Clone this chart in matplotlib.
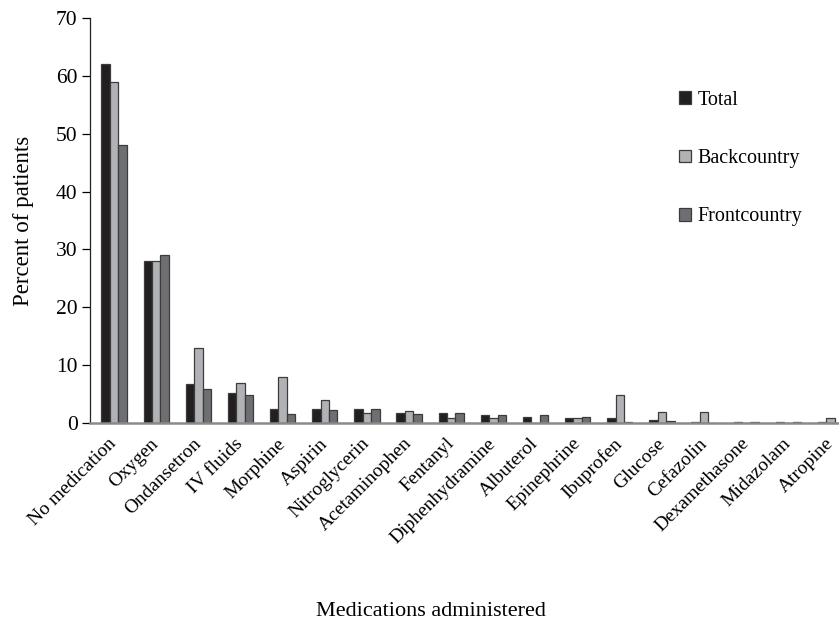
import matplotlib
matplotlib.use("Agg")
import matplotlib.pyplot as plt
import matplotlib.transforms as mtransforms
import numpy as np

plt.rcParams['font.family'] = ['Liberation Serif', 'DejaVu Serif']

medications = ["No medication", "Oxygen", "Ondansetron", "IV fluids", "Morphine",
               "Aspirin", "Nitroglycerin", "Acetaminophen", "Fentanyl",
               "Diphenhydramine", "Albuterol", "Epinephrine", "Ibuprofen",
               "Glucose", "Cefazolin", "Dexamethasone", "Midazolam", "Atropine"]
total = [62, 28, 6.7, 5.2, 2.5, 2.5, 2.5, 1.7, 1.7, 1.3, 1.1, 0.9, 0.9, 0.6, 0.25, 0.1, 0.1, 0.1]
backcountry = [59, 28, 12.9, 6.9, 7.9, 4.0, 1.8, 2.0, 0.9, 0.9, 0, 0.9, 4.9, 1.9, 1.9, 0, 0, 0.9]
frontcountry = [48, 29, 5.9, 4.9, 1.5, 2.2, 2.5, 1.6, 1.75, 1.4, 1.4, 1.0, 0.15, 0.4, 0, 0.15, 0.15, 0]

series = [("Total", total, "#231f20"),
          ("Backcountry", backcountry, "#b1b2b5"),
          ("Frontcountry", frontcountry, "#6e6f72")]

fig = plt.figure(figsize=(8.39, 6.29), dpi=100)
ax = fig.add_axes([90/839, (629-423)/629, 749/839, (423-18)/629])

x = np.arange(len(medications))
width = 0.2
for k, (name, vals, color) in enumerate(series):
    ax.bar(x + (k - 1) * width, vals, width, color=color, edgecolor="#3c3c3c",
           linewidth=0.9, label=name, zorder=2)

ax.set_xlim(-0.57, 17.2)
ax.set_ylim(0, 70)
ax.set_yticks(range(0, 71, 10))
ax.set_xticks(x)
ax.set_xticklabels(medications, rotation=45, ha="right", va="center",
                   rotation_mode="anchor", fontsize=14)
# nudge the slanted labels a few pixels to the right
shift = mtransforms.ScaledTranslation(4/100, 0, fig.dpi_scale_trans)
for lab in ax.get_xticklabels():
    lab.set_transform(lab.get_transform() + shift)
ax.tick_params(axis="x", length=0, pad=13)
ax.tick_params(axis="y", direction="out", length=6, labelsize=15.5, width=0.9, pad=3)

for side in ("top", "right"):
    ax.spines[side].set_visible(False)
ax.spines["left"].set_color("#222222")
ax.spines["left"].set_linewidth(0.9)
ax.spines["bottom"].set_color("#8a8a8a")
ax.spines["bottom"].set_linewidth(1.8)
ax.spines["bottom"].set_zorder(3)

ax.set_ylabel("Percent of patients", fontsize=16.5, labelpad=16)
fig.text(431/839, 1 - 612/629, "Medications administered", fontsize=16,
         ha="center", va="center")

ax.legend(loc="upper left", bbox_to_anchor=(0.775, 0.84), frameon=False,
          fontsize=14.5, handlelength=0.6, handleheight=0.6, handletextpad=0.35,
          labelspacing=1.95, borderaxespad=0)

fig.savefig("out.png", dpi=100)
